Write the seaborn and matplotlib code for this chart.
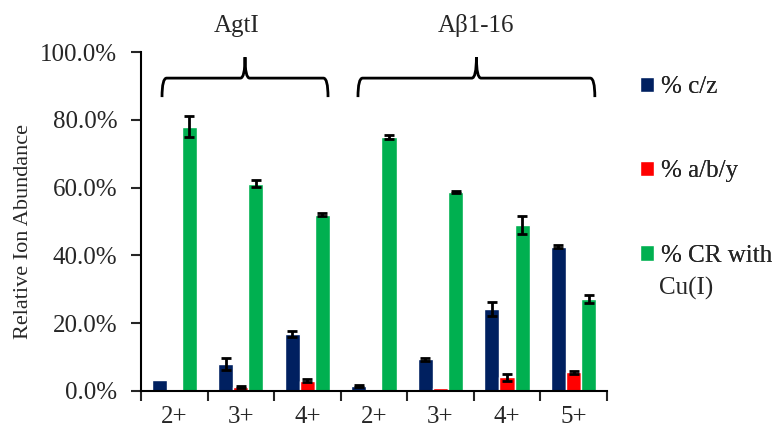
import matplotlib
matplotlib.use("Agg")
import matplotlib.pyplot as plt
import seaborn as sns
import pandas as pd
from matplotlib.path import Path
from matplotlib.patches import PathPatch
from matplotlib.ticker import PercentFormatter, FixedLocator, NullFormatter
import matplotlib.transforms as mtransforms

# ---- data (fractions) ----
groups = ["AgtI", "AgtI", "AgtI", "Aβ1-16", "Aβ1-16", "Aβ1-16", "Aβ1-16"]
charges = ["2+", "3+", "4+", "2+", "3+", "4+", "5+"]
series = ["% c/z", "% a/b/y", "% CR with Cu(I)"]
cz = [0.032, 0.080, 0.168, 0.015, 0.093, 0.241, 0.426]
cz_err = [0.0, 0.017, 0.008, 0.003, 0.004, 0.020, 0.005]
aby = [0.0, 0.010, 0.030, 0.0, 0.008, 0.040, 0.055]
aby_err = [0.0, 0.003, 0.005, 0.0, 0.0, 0.010, 0.005]
cr = [0.780, 0.611, 0.520, 0.749, 0.587, 0.490, 0.272]
cr_err = [0.030, 0.010, 0.004, 0.005, 0.003, 0.026, 0.012]
colors = ["#002060", "#FF0000", "#00B050"]

sns.set_style("white")
plt.rcParams["font.family"] = ["Liberation Serif", "DejaVu Serif"]

cats = [f"{g} {c}" for g, c in zip(groups, charges)]
rows = []
for name, vals, errs in zip(series, [cz, aby, cr], [cz_err, aby_err, cr_err]):
    for cat, v, e in zip(cats, vals, errs):
        rows.append({"cat": cat, "series": name, "value": v, "err": e})
df = pd.DataFrame(rows)

fig = plt.figure(figsize=(7.75, 4.3), dpi=100)
ax = fig.add_axes([0.182, 0.091, 0.601, 0.788])

sns.barplot(data=df, x="cat", y="value", hue="series", order=cats,
            hue_order=series, palette=colors, width=0.68, errorbar=None,
            saturation=1, ax=ax)

# error bars
for cont, name in zip(ax.containers, series):
    sub = df[df["series"] == name].set_index("cat").loc[cats]
    for patch, v, e in zip(cont.patches, sub["value"], sub["err"]):
        if e > 0:
            xc = patch.get_x() + patch.get_width() / 2
            ax.errorbar(xc, v, yerr=e, color="black", lw=2, capsize=3.5,
                        capthick=2, zorder=5)

ax.set_ylim(0, 1.0)
ax.set_xlim(-0.5, len(cats) - 0.5)
ax.yaxis.set_major_locator(FixedLocator([0, 0.2, 0.4, 0.6, 0.8, 1.0]))
ax.yaxis.set_major_formatter(PercentFormatter(1.0, decimals=1))
ax.set_xticks([i - 0.5 for i in range(len(cats) + 1)])
ax.xaxis.set_major_formatter(NullFormatter())
ax.set_xticks(range(len(cats)), minor=True)
ax.set_xticklabels(charges, minor=True)
ax.tick_params(axis="x", which="major", direction="out", length=7, width=1.5,
               bottom=True)
ax.tick_params(axis="x", which="minor", length=0, pad=11, labelsize=18)
ax.tick_params(axis="y", direction="out", length=7, width=1.5, left=True,
               labelsize=18, pad=10)
ax.set_xlabel("")
ax.set_ylabel("Relative Ion Abundance", fontsize=16)
ax.yaxis.set_label_coords(-0.232, 0.469)
for s in ["top", "right"]:
    ax.spines[s].set_visible(False)
for s in ["left", "bottom"]:
    ax.spines[s].set_color("black")
    ax.spines[s].set_linewidth(1.5)

# legend: one entry per row, placed like the original
h, l = ax.get_legend_handles_labels()
ax.get_legend().remove()
legend_labels = ["% c/z", "% a/b/y", "% CR with"]
legend_y = [0.797, 0.602, 0.405]
for handle, lab, yy in zip(h, legend_labels, legend_y):
    leg = fig.legend([handle], [lab], loc="center left",
                     bbox_to_anchor=(0.826, yy), frameon=False, fontsize=18,
                     handlelength=0.55, handleheight=0.55, handletextpad=0.3,
                     borderpad=0, borderaxespad=0)
    fig.add_artist(leg)
fig.text(0.850, 0.330, "Cu(I)", fontsize=18, ha="left", va="center")

# braces
trans = mtransforms.blended_transform_factory(ax.transData, ax.transAxes)


def brace(x0, x1, label, lx):
    yb, yh, yt, rx = 0.867, 0.923, 0.985, 0.07
    xc = (x0 + x1) / 2
    verts = [(x0, yb), (x0, yh), (x0 + rx, yh), (xc - rx, yh), (xc, yh), (xc, yt),
             (xc, yh), (xc + rx, yh), (x1 - rx, yh), (x1, yh), (x1, yb)]
    codes = [Path.MOVETO, Path.CURVE3, Path.CURVE3, Path.LINETO, Path.CURVE3,
             Path.CURVE3, Path.CURVE3, Path.CURVE3, Path.LINETO, Path.CURVE3,
             Path.CURVE3]
    ax.add_patch(PathPatch(Path(verts, codes), fill=False, lw=2, color="black",
                           transform=trans, clip_on=False))
    ax.text(lx, 1.077, label, transform=trans, ha="center", va="center",
            fontsize=18)


brace(-0.185, 2.31, "AgtI", 0.93)
brace(2.76, 6.32, "Aβ1-16", 4.54)

fig.savefig("out.png", dpi=100)
